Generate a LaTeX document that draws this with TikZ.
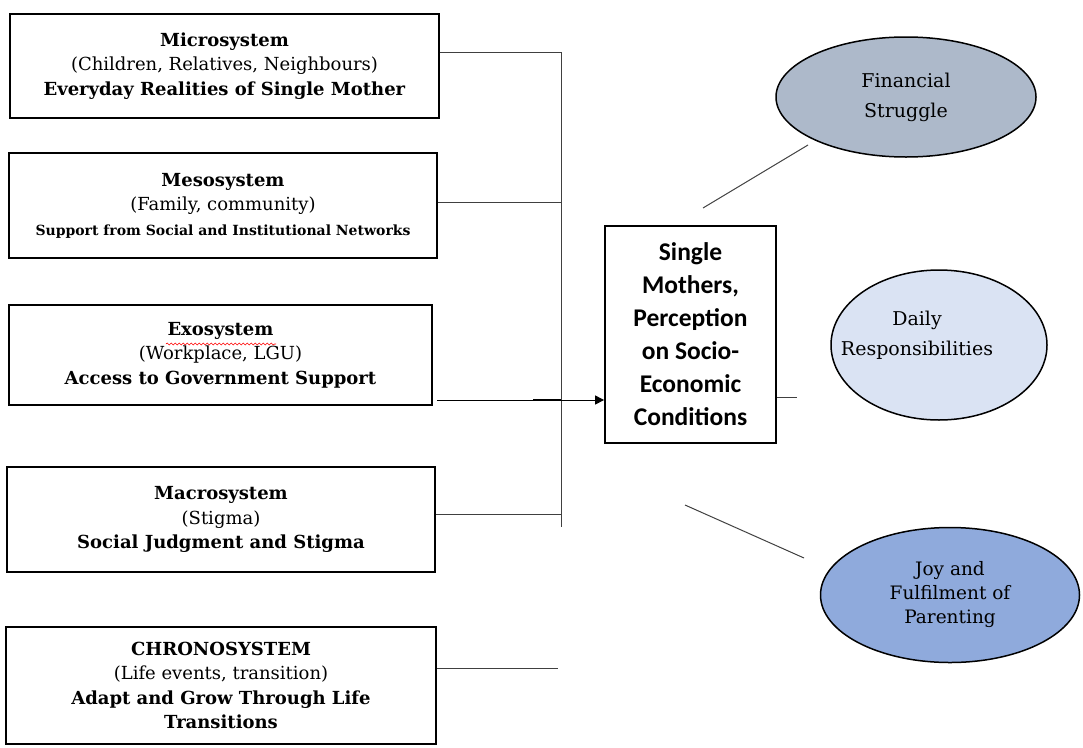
\documentclass[tikz,border=0pt]{standalone}
\usepackage{fontspec}
\setmainfont{DejaVu Serif}
\newfontfamily\calib{Carlito}
\usetikzlibrary{shapes.geometric,arrows.meta,decorations.pathmorphing}
\definecolor{finfill}{HTML}{ADB9CA}
\definecolor{dayfill}{HTML}{DAE3F3}
\definecolor{joyfill}{HTML}{8FAADC}
\begin{document}
\begin{tikzpicture}[x=1pt,y=-1pt,
  sysbox/.style={draw=black, line width=1.8pt, align=center, inner sep=0pt, font=\fontsize{18}{24.5}\selectfont},
  link/.style={draw=black!75, line width=1pt},
  oval/.style={ellipse, draw=black, line width=1.5pt, align=center, inner sep=0pt, font=\fontsize{19}{30}\selectfont},
]
\useasboundingbox (0,0) rectangle (1083,747);

% left system boxes
\node[sysbox, minimum width=429pt, minimum height=104pt] (micro) at (224.5,66)
  {\textbf{Microsystem}\\(Children, Relatives, Neighbours)\\\textbf{Everyday Realities of Single Mother}};
\node[sysbox, minimum width=428pt, minimum height=105pt] (meso) at (223,205.5)
  {\textbf{Mesosystem}\\(Family, community)\\{\fontsize{14}{23}\selectfont\textbf{Support from Social and Institutional Networks}}};
\node[sysbox, minimum width=423pt, minimum height=100pt] (exo) at (220.5,355)
  {\textbf{Exosystem}\\(Workplace, LGU)\\\textbf{Access to Government Support}};
\node[sysbox, minimum width=428pt, minimum height=105pt] (macro) at (221,519.5)
  {\textbf{Macrosystem}\\(Stigma)\\\textbf{Social Judgment and Stigma}};
\node[sysbox, minimum width=430pt, minimum height=117pt] (chrono) at (221,685.5)
  {\textbf{CHRONOSYSTEM}\\(Life events, transition)\\\textbf{Adapt and Grow Through Life}\\\textbf{Transitions}};

% spell-check underline
\coordinate (sp1) at (166,344);
\coordinate (sp2) at (276,344);
\draw[red, line width=0.6pt, decorate, decoration={snake, amplitude=1pt, segment length=4pt}] (sp1) -- (sp2);

% central box
\node[draw=black, line width=1.8pt, minimum width=171pt, minimum height=217pt, align=center, inner sep=0pt,
  font=\calib\bfseries\fontsize{25.5}{33}\selectfont] (cbox) at (690.5,334.5)
  {Single\\Mothers,\\Perception\\on Socio-\\Economic\\Conditions};

% ellipses
\node[oval, fill=finfill, minimum width=260pt, minimum height=120pt] (fin) at (906,97)
  {Financial\\Struggle};
\node[oval, fill=dayfill, minimum width=216pt, minimum height=150pt,
  label={[align=center, font=\fontsize{19}{30}\selectfont, xshift=-22pt, yshift=10pt]center:{Daily\\Responsibilities}}] (day) at (939,345) {};
\node[oval, fill=joyfill, minimum width=259pt, minimum height=135pt, font=\fontsize{18.5}{24}\selectfont] (joy) at (950,595)
  {Joy and\\Fulfilment of\\Parenting};

% bus connectors
\coordinate (bt) at (561,52);
\coordinate (bb) at (561,527);
\coordinate (bmeso) at (561,202);
\coordinate (bmacro) at (561,514);
\coordinate (exoin) at (437,400);
\coordinate (thk1) at (533,400);
\coordinate (thk2) at (561,400);
\coordinate (chend) at (558,668);
\draw[link] (bt) -- (bb);
\draw[link] (micro.east |- bt) -- (bt);
\draw[link] (meso.east |- bmeso) -- (bmeso);
\draw[link] (macro.east |- bmacro) -- (bmacro);
\draw[link, draw=black, -{Triangle[length=9pt,width=9pt]}] (exoin) -- (cbox.west |- exoin);
\draw[draw=black, line width=1.8pt] (thk1) -- (thk2);
\draw[link] (chrono.east |- chend) -- (chend);

% right connectors
\coordinate (f1) at (703,208);
\coordinate (f2) at (808,145);
\coordinate (d1) at (797,397);
\coordinate (j1) at (685,505);
\coordinate (j2) at (804,558);
\draw[link] (f1) -- (f2);
\draw[link] (cbox.east |- d1) -- (d1);
\draw[link] (j1) -- (j2);
\end{tikzpicture}
\end{document}
